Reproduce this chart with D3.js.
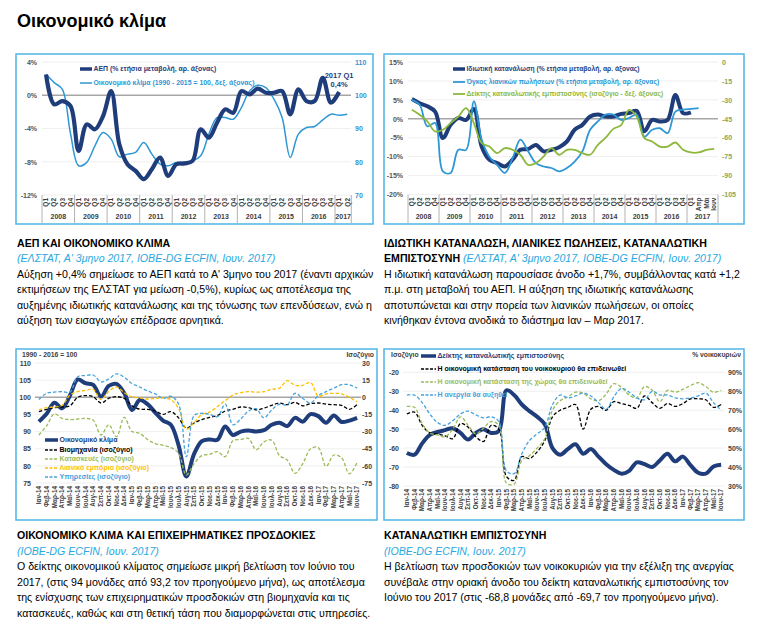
<!DOCTYPE html>
<html>
<head>
<meta charset="utf-8">
<script src="https://cdn.jsdelivr.net/npm/d3@7"></script>
<style>
body { margin: 0; background: #fff; }
svg text { font-family: "Liberation Sans", Arial, sans-serif; }
</style>
</head>
<body>
<svg id="page"></svg>
<script>
// ---- chart 1: GDP and economic climate (quarterly) ----
var years1 = ['2008','2009','2010','2011','2012','2013','2014','2015','2016','2017'];
var quarters1 = years1.flatMap(y => (y === '2017' ? ['Q1','Q2'] : ['Q1','Q2','Q3','Q4']).map(q => y + ' ' + q));
var gdp = [2.5, -1.1, -0.7, -1.3, -6.7, -3.5, -4.1, -2.5, 0.5, -5.9, -8.3, -9.1, -10.1, -8.9, -7.5, -9.7,
           -8.3, -8.2, -7.9, -4.1, -5.1, -3.3, -1.7, -2.1, 0.5, 0.1, 0.8, 0.3, 0.3, 0.5, -2.3, 0.7,
           -0.7, -0.7, 2.1, -0.9, 0.4];
var climate1 = [106.3, 103.8, 101.8, 88.5, 78.8, 79.8, 84.8, 88.8, 86.8, 81.5, 82.3, 82.8, 85.8, 82.3, 79.3, 78.8,
                79.8, 79.8, 80.3, 81.8, 88.3, 93.3, 93.3, 92.8, 96.3, 101.3, 103.0, 102.3, 98.8, 93.3, 81.3, 88.3,
                90.3, 90.6, 92.6, 94.3, 94.0, 94.3];

// ---- chart 2: consumption, retail sales, consumer confidence ----
var cats2 = years1.slice(0, 9).flatMap(y => ['Q1','Q2','Q3','Q4'].map(q => y + ' ' + q))
  .concat(['2017 Q1', '2017 Απρ', '2017 Μάι', '2017 Ιουν']);
var consumption = [5.2, 4.1, 3.3, 1.9, -5.1, -1.6, 0.2, -0.3, 2.6, -7.3, -10.8, -11.7, -12.6, -10.8, -8.2, -8.0,
                   -6.9, -8.6, -8.2, -7.5, -6.0, -2.9, -1.6, 0.6, 1.1, 0.6, 0.6, 1.3, 1.5, 2.1, -3.3, -0.3,
                   -0.7, -0.3, 6.3, 1.5, 1.7];
var retailSales = [5.0, 3.7, -2.0, -1.1, -13.9, -14.3, -8.2, -8.2, 4.6, -5.5, -10.0, -12.2, -14.3, -10.4, -5.5, -8.6,
                   -11.7, -12.6, -13.0, -13.9, -13.0, -11.3, -8.6, -2.9, -0.7, 1.1, 1.1, -0.3, 0.2, 1.1, -4.7, -2.9,
                   -2.5, -3.8, 1.9, 2.4, 2.6, 2.8];
var confidence2 = [-37.9, -41.8, -47.1, -55.0, -53.7, -48.4, -43.2, -36.5, -48.4, -64.3, -67.0, -72.2, -68.2, -69.6, -73.5, -81.5,
                   -80.1, -74.9, -68.2, -73.5, -69.6, -69.6, -72.2, -73.5, -65.6, -60.0, -53.0, -50.0, -38.0, -43.2, -60.3, -63.0,
                   -67.0, -67.0, -63.8, -69.6, -71.7, -71.7, -69.7, -68.8];

// ---- monthly categories for charts 3 and 4 ----
var monthNames = ['Ιαν','Φεβ','Μαρ','Απρ','Μαϊ','Ιουν','Ιουλ','Αυγ','Σεπ','Οκτ','Νοε','Δεκ'];
var months = ['14','15','16','17'].flatMap(y => monthNames.map(m => m + '-' + y)).slice(0, 42);

// ---- chart 3: economic climate and business expectations ----
var esi = [92.9, 95.2, 98.4, 96.8, 100.5, 105.2, 104.1, 103.6, 100.2, 103.3, 103.9, 101.2,
           96.3, 99.2, 98.0, 95.5, 93.2, 92.0, 86.0, 76.9, 83.5, 87.2, 87.7, 87.6,
           91.5, 89.0, 90.0, 90.3, 90.0, 90.4, 92.0, 92.6, 91.6, 94.0, 92.9, 95.1,
           94.5, 92.6, 94.7, 92.8, 93.2, 94.0];
var industry = [-12.6, -10.5, -9.0, -8.5, -7.5, 0.0, 1.5, 0.5, -5.0, -1.0, 0.5, -1.0,
                -7.5, -10.5, -10.5, -12.0, -15.0, -12.5, -18.0, -27.0, -22.5, -19.5, -17.5, -16.0,
                -12.0, -10.5, -8.5, -9.0, -11.0, -9.5, -7.0, -5.0, -6.5, -4.5, -7.5, -5.5,
                -5.0, -6.0, -6.5, -7.0, -10.5, -6.5];
var construction = [-33, -25, -14.5, -18.5, -19.5, -19, -18.5, -20, -33, -24, -34.5, -17.5,
                    -30, -31.5, -37, -40.5, -42, -44, -49, -68, -58, -51, -50, -47.5,
                    -52, -38, -37, -36, -46, -39, -37.5, -51, -55, -66.5, -58, -45,
                    -44, -60.5, -50.5, -53, -67, -57];
var retailTrade = [-11, -9, -8.5, -7, 2, 5, 6, 7, -2, 5, 9, 4,
                   0.5, -0.5, -1.5, -1, -0.5, -2, -10, -28, -22, -15, -13, -8,
                   -3, 2, 4, 5, 4.5, 5, 7, 8, 14.5, 10.5, 10.5, 13,
                   1, 3, 3.5, 3, 0, -4];
var services = [-2, 3.5, 4.5, 5, 4.5, 18, 19, 19.5, 13.5, 16, 20.5, 17.5,
                12, 9, 5.5, 3, -1, 1, -6, -52, -16, -14, -15, -17,
                -6, -24, -19, -12, -10, -18, -11, -6, -6.5, 3.5, -1, -5,
                1.5, 5, 8, 11, 11, 8];

// ---- chart 4: consumer confidence ----
var consConf = [-62.6, -63.5, -57.5, -53, -51.5, -50.5, -49.5, -52, -55.5, -52, -50, -52,
                -51, -29.5, -32, -37, -40.5, -43.5, -47.5, -60, -63.5, -60.5, -58, -63,
                -60.5, -64.5, -68.5, -71.5, -73.5, -72, -67.5, -68.5, -70, -66.5, -63, -67,
                -64.5, -69, -73, -73.5, -69.7, -68.8];
var householdFin = [68, 69, 62, 58, 57.5, 56.5, 55, 63, 61, 56, 53.5, 62,
                    60, 35, 33, 45.5, 44.5, 48, 54, 66.5, 70, 71.5, 73, 60,
                    70.5, 72, 70, 74.5, 73.5, 72.5, 71, 77.5, 74, 71, 73.5, 72,
                    73.5, 76, 76, 75.5, 71.5, 73];
var countryEcon = [72, 71.5, 63, 58, 57, 56, 60, 66.5, 62, 57.5, 60.5, 64,
                   62, 31.5, 31, 43.5, 46, 50, 55, 70, 75, 77, 79.5, 79,
                   76, 75, 78.5, 84, 82, 78, 76.5, 82.5, 80.5, 74.5, 80.5, 79.5,
                   81, 83, 84.5, 82.5, 79.5, 80.5];
var unemployment = [78, 78, 74, 68, 63.5, 62, 64.5, 68, 69.5, 67.5, 66, 66.5,
                    64, 38, 36.5, 47, 54, 57.5, 61, 73, 78, 76.5, 77.5, 79,
                    77.5, 74, 70.5, 77, 81.5, 79.5, 76.5, 75.5, 80, 78, 78, 76.5,
                    76, 76.5, 77.5, 79, 74, 70];

var navy = '#1f3d7a', sky = '#2e97d5', green = '#8cb83c', olive = '#9bbb59', orange = '#ffc000', axisGrey = '#404040';

var svg = d3.select('#page').attr('width', 763).attr('height', 621);

svg.append('text').attr('x', 17).attr('y', 27).text('Οικονομικό κλίμα')
  .style('font-size', '18px').style('font-weight', 'bold');

function panel(x0, y0, x1, y1) {
  svg.append('rect').attr('x', x0).attr('y', y0).attr('width', x1 - x0).attr('height', y1 - y0)
    .attr('fill', 'none').attr('stroke', '#4db6e6').attr('stroke-width', 1.5);
}

function yAxis(scale, ticks, x, side, fmt, color) {
  var ax = (side === 'left' ? d3.axisLeft(scale) : d3.axisRight(scale))
    .tickValues(ticks).tickSize(0).tickPadding(0).tickFormat(fmt);
  var g = svg.append('g').attr('transform', `translate(${x},0)`).call(ax);
  g.select('.domain').remove();
  g.selectAll('text').attr('fill', color).style('font-size', '7px').style('font-weight', 'bold');
}

function grid(scale, ticks, x0, x1) {
  svg.append('g').selectAll('line').data(ticks).join('line')
    .attr('x1', x0).attr('x2', x1).attr('y1', d => scale(d)).attr('y2', d => scale(d))
    .attr('stroke', '#ebebeb').attr('stroke-width', 0.8);
}

function refLine(y, x0, x1) {
  svg.append('line').attr('x1', x0).attr('x2', x1).attr('y1', y).attr('y2', y)
    .attr('stroke', '#a6a6a6').attr('stroke-width', 1.5);
}

function series(x, y, cats, values, color, width, dash) {
  var line = d3.line()
    .x((d, i) => x(cats[i]) + x.bandwidth() / 2)
    .y(d => y(d))
    .curve(d3.curveCatmullRom.alpha(0.5));
  svg.append('path').datum(values).attr('d', line).attr('fill', 'none')
    .attr('stroke', color).attr('stroke-width', width).attr('stroke-dasharray', dash || null)
    .attr('stroke-linejoin', 'round');
}

function rotatedLabels(x, y0, fmt, size) {
  var g = svg.append('g').attr('transform', `translate(0,${y0})`)
    .call(d3.axisBottom(x).tickSize(0).tickFormat(fmt));
  g.select('.domain').remove();
  g.selectAll('text').attr('transform', 'rotate(-90)').attr('text-anchor', 'end')
    .attr('x', -3).attr('y', 0).attr('dy', '0.35em')
    .attr('fill', axisGrey).style('font-size', size).style('font-weight', 'bold');
}

function yearGroups(x, cats, yTop, yBottom, yText) {
  var yrs = Array.from(new Set(cats.map(c => c.split(' ')[0])));
  var last = 0;
  yrs.forEach(yr => {
    var inYear = cats.filter(c => c.split(' ')[0] === yr);
    var a = x(inYear[0]), b = x(inYear[inYear.length - 1]) + x.bandwidth();
    svg.append('line').attr('x1', a).attr('x2', a).attr('y1', yTop).attr('y2', yBottom)
      .attr('stroke', '#a0a0a0').attr('stroke-width', 0.8);
    svg.append('text').attr('x', (a + b) / 2).attr('y', yText).attr('text-anchor', 'middle')
      .text(yr).attr('fill', axisGrey).style('font-size', '7px').style('font-weight', 'bold');
    last = b;
  });
  svg.append('line').attr('x1', last).attr('x2', last).attr('y1', yTop).attr('y2', yBottom)
    .attr('stroke', '#a0a0a0').attr('stroke-width', 0.8);
}

function legendItem(x, y, len, color, width, dash, label, size) {
  svg.append('line').attr('x1', x).attr('x2', x + len).attr('y1', y).attr('y2', y)
    .attr('stroke', color).attr('stroke-width', width).attr('stroke-dasharray', dash || null);
  svg.append('text').attr('x', x + len + 1.5).attr('y', y).attr('dy', '0.35em').text(label)
    .attr('fill', color).style('font-size', size).style('font-weight', 'bold');
}

// ================= chart 1 =================
panel(16, 54, 373, 224);
var x1 = d3.scaleBand().domain(quarters1).range([42, 351.3]);
var yL1 = d3.scaleLinear().domain([-12, 4]).range([195, 62]);
var yR1 = d3.scaleLinear().domain([70, 110]).range([195, 62]);
grid(yL1, [-12, -8, -4, 4], 42, 351);
refLine(yL1(0), 42, 351);
series(x1, yR1, quarters1, climate1, sky, 1.5);
series(x1, yL1, quarters1, gdp, navy, 4.2);
yAxis(yL1, [-12, -8, -4, 0, 4], 37, 'left', d => d + '%', '#555');
yAxis(yR1, [70, 80, 90, 100, 110], 355, 'right', d => d, '#3a93d0');
rotatedLabels(x1, 195, d => d.split(' ')[1], '6.5px');
yearGroups(x1, quarters1, 195, 223, 219);
legendItem(80, 69, 12, navy, 3.5, null, 'ΑΕΠ (% ετήσια μεταβολή, αρ. άξονας)', '6.9px');
legendItem(80, 83, 12, sky, 1.5, null, 'Οικονομικό κλίμα (1990 - 2015 = 100, δεξ. άξονας)', '6.9px');
var ann = x1('2017 Q1') + x1.bandwidth() / 2;
svg.append('text').attr('x', ann).attr('y', 78).attr('text-anchor', 'middle').text('2017 Q1')
  .attr('fill', navy).style('font-size', '7.5px').style('font-weight', 'bold');
svg.append('text').attr('x', ann).attr('y', 87).attr('text-anchor', 'middle').text('0,4%')
  .attr('fill', navy).style('font-size', '7.5px').style('font-weight', 'bold');

// ================= chart 2 =================
panel(384, 54, 744, 224);
var x2 = d3.scaleBand().domain(cats2).range([408, 718]);
var yL2 = d3.scaleLinear().domain([-20, 15]).range([194.5, 62]);
var yR2 = d3.scaleLinear().domain([-105, 0]).range([194.5, 62]);
grid(yL2, [-20, -15, -10, -5, 5, 10, 15], 408, 718);
refLine(yL2(0), 408, 718);
series(x2, yL2, cats2, consumption, navy, 4);
series(x2, yL2, cats2, retailSales, sky, 1.8);
series(x2, yR2, cats2, confidence2, green, 1.8);
yAxis(yL2, [-20, -15, -10, -5, 0, 5, 10, 15], 403, 'left', d => d + '%', '#555');
yAxis(yR2, [-105, -90, -75, -60, -45, -30, -15, 0], 722, 'right', d => d, '#8aa65a');
rotatedLabels(x2, 194.5, d => d.split(' ')[1], '6.5px');
yearGroups(x2, cats2, 194.5, 223, 219);
legendItem(453, 69, 12, navy, 3.5, null, 'Ιδιωτική κατανάλωση (% ετήσια μεταβολή, αρ. άξονας)', '6.7px');
legendItem(453, 82, 12, sky, 1.8, null, 'Όγκος λιανικών πωλήσεων (% ετήσια μεταβολή, αρ. άξονας)', '6.7px');
legendItem(453, 94, 12, green, 1.8, null, 'Δείκτης καταναλωτικής εμπιστοσύνης (ισοζύγιο - δεξ. άξονας)', '6.7px');

// ================= chart 3 =================
panel(16, 349, 377, 520);
var x3 = d3.scaleBand().domain(months).range([35, 361]);
var yL3 = d3.scaleLinear().domain([75, 110]).range([483, 363]);
var yR3 = d3.scaleLinear().domain([-75, 30]).range([483, 363]);
grid(yL3, [75, 80, 85, 90, 95, 105, 110], 35, 361);
refLine(yL3(100), 35, 361);
series(x3, yL3, months, esi, navy, 4);
series(x3, yR3, months, industry, '#000', 1.3, '3.5,2');
series(x3, yR3, months, construction, olive, 1.3, '3.5,2');
series(x3, yR3, months, retailTrade, orange, 1.3, '3.5,2');
series(x3, yR3, months, services, '#45a3dd', 1.3, '3.5,2');
yAxis(yL3, [75, 80, 85, 90, 95, 100, 105, 110], 31, 'left', d => d, axisGrey);
yAxis(yR3, [-75, -60, -45, -30, -15, 0, 15, 30], 362, 'right', d => d, axisGrey);
rotatedLabels(x3, 483, d => d, '6.3px');
svg.append('text').attr('x', 22).attr('y', 357).text('1990 - 2016 = 100')
  .attr('fill', axisGrey).style('font-size', '6.8px').style('font-weight', 'bold');
svg.append('text').attr('x', 374).attr('y', 357).attr('text-anchor', 'end').text('Ισοζύγιο')
  .attr('fill', axisGrey).style('font-size', '6.8px').style('font-weight', 'bold');
legendItem(45, 440, 13, navy, 3.5, null, 'Οικονομικό κλίμα', '7px');
legendItem(45, 450, 13, '#000', 1.3, '3,1.5', 'Βιομηχανία (ισοζύγιο)', '7px');
legendItem(45, 459, 13, olive, 1.3, '3,1.5', 'Κατασκευές (ισοζύγιο)', '7px');
legendItem(45, 468, 13, orange, 1.3, '3,1.5', 'Λιανικό εμπόριο (ισοζύγιο)', '7px');
legendItem(45, 477, 13, '#45a3dd', 1.3, '3,1.5', 'Υπηρεσίες (ισοζύγιο)', '7px');

// ================= chart 4 =================
panel(384, 349, 744, 520);
var x4 = d3.scaleBand().domain(months).range([403, 725]);
var yL4 = d3.scaleLinear().domain([-80, -20]).range([486, 372.3]);
var yR4 = d3.scaleLinear().domain([30, 90]).range([486, 372.3]);
grid(yL4, [-80, -70, -60, -50, -40, -30, -20], 403, 725);
series(x4, yL4, months, consConf, navy, 4);
series(x4, yR4, months, householdFin, '#000', 1.3, '3.5,2');
series(x4, yR4, months, countryEcon, olive, 1.3, '3.5,2');
series(x4, yR4, months, unemployment, '#45a3dd', 1.3, '3.5,2');
yAxis(yL4, [-80, -70, -60, -50, -40, -30, -20], 399, 'left', d => d, axisGrey);
var r4 = d3.axisLeft(yR4).tickValues([30, 40, 50, 60, 70, 80, 90]).tickSize(0).tickPadding(0).tickFormat(d => d + '%');
var gr4 = svg.append('g').attr('transform', 'translate(742,0)').call(r4);
gr4.select('.domain').remove();
gr4.selectAll('text').attr('fill', axisGrey).style('font-size', '7px').style('font-weight', 'bold');
rotatedLabels(x4, 486, d => d, '6.3px');
svg.append('text').attr('x', 391).attr('y', 357).text('Ισοζύγιο')
  .attr('fill', axisGrey).style('font-size', '6.8px').style('font-weight', 'bold');
svg.append('text').attr('x', 741).attr('y', 357).attr('text-anchor', 'end').text('% νοικοκυριών')
  .attr('fill', axisGrey).style('font-size', '6.8px').style('font-weight', 'bold');
legendItem(421, 356, 15, navy, 3.5, null, 'Δείκτης καταναλωτικής εμπιστοσύνης', '7px');
legendItem(421, 369, 15, '#000', 1.3, '3,1.5', 'Η οικονομική κατάσταση του νοικοκυριού θα επιδεινωθεί', '7px');
legendItem(421, 382, 15, olive, 1.3, '3,1.5', 'Η οικονομική κατάσταση της χώρας θα επιδεινωθεί', '7px');
legendItem(421, 395, 15, '#45a3dd', 1.3, '3,1.5', 'Η ανεργία θα αυξηθεί', '7px');

// ================= text blocks =================
var blue = '#29a8e0';
function block(x, yStart, step, lines) {
  lines.forEach((ln, i) => {
    var t = svg.append('text').attr('x', x).attr('y', yStart + i * step).style('font-size', '10.6px');
    ln.forEach(part => {
      var s = t.append('tspan').text(part.t);
      if (part.b) s.style('font-weight', 'bold');
      if (part.i) s.style('font-style', 'italic').attr('fill', blue);
    });
  });
}

block(17, 247, 15.4, [
  [{t: 'ΑΕΠ ΚΑΙ ΟΙΚΟΝΟΜΙΚΟ ΚΛΙΜΑ', b: true}],
  [{t: '(ΕΛΣΤΑΤ, Α\' 3μηνο 2017, ΙΟΒΕ-DG ECFIN, Ιουν. 2017)', i: true}],
  [{t: 'Αύξηση +0,4% σημείωσε το ΑΕΠ κατά το Α\' 3μηνο του 2017 (έναντι αρχικών'}],
  [{t: 'εκτιμήσεων της ΕΛΣΤΑΤ για μείωση -0,5%), κυρίως ως αποτέλεσμα της'}],
  [{t: 'αυξημένης ιδιωτικής κατανάλωσης και της τόνωσης των επενδύσεων, ενώ η'}],
  [{t: 'αύξηση των εισαγωγών επέδρασε αρνητικά.'}]
]);

block(384, 247, 15.4, [
  [{t: 'ΙΔΙΩΤΙΚΗ ΚΑΤΑΝΑΛΩΣΗ, ΛΙΑΝΙΚΕΣ ΠΩΛΗΣΕΙΣ, ΚΑΤΑΝΑΛΩΤΙΚΗ', b: true}],
  [{t: 'ΕΜΠΙΣΤΟΣΥΝΗ ', b: true}, {t: '(ΕΛΣΤΑΤ, Α\' 3μηνο 2017, ΙΟΒΕ-DG ECFIN, Ιουν. 2017)', i: true}],
  [{t: 'Η ιδιωτική κατανάλωση παρουσίασε άνοδο +1,7%, συμβάλλοντας κατά +1,2'}],
  [{t: 'π.μ. στη μεταβολή του ΑΕΠ. Η αύξηση της ιδιωτικής κατανάλωσης'}],
  [{t: 'αποτυπώνεται και στην πορεία των λιανικών πωλήσεων, οι οποίες'}],
  [{t: 'κινήθηκαν έντονα ανοδικά το διάστημα Ιαν – Μαρ 2017.'}]
]);

block(17, 539, 15.6, [
  [{t: 'ΟΙΚΟΝΟΜΙΚΟ ΚΛΙΜΑ ΚΑΙ ΕΠΙΧΕΙΡΗΜΑΤΙΚΕΣ ΠΡΟΣΔΟΚΙΕΣ', b: true}],
  [{t: '(ΙΟΒΕ-DG ECFIN, Ιουν. 2017)', i: true}],
  [{t: 'Ο δείκτης οικονομικού κλίματος σημείωσε μικρή βελτίωση τον Ιούνιο του'}],
  [{t: '2017, (στις 94 μονάδες από 93,2 τον προηγούμενο μήνα), ως αποτέλεσμα'}],
  [{t: 'της ενίσχυσης των επιχειρηματικών προσδοκιών στη βιομηχανία και τις'}],
  [{t: 'κατασκευές, καθώς και στη θετική τάση που διαμορφώνεται στις υπηρεσίες.'}]
]);

block(384, 539, 15.6, [
  [{t: 'ΚΑΤΑΝΑΛΩΤΙΚΗ ΕΜΠΙΣΤΟΣΥΝΗ', b: true}],
  [{t: '(ΙΟΒΕ-DG ECFIN, Ιουν. 2017)', i: true}],
  [{t: 'Η βελτίωση των προσδοκιών των νοικοκυριών για την εξέλιξη της ανεργίας'}],
  [{t: 'συνέβαλε στην οριακή άνοδο του δείκτη καταναλωτικής εμπιστοσύνης τον'}],
  [{t: 'Ιούνιο του 2017 (στις -68,8 μονάδες από -69,7 τον προηγούμενο μήνα).'}]
]);
</script>
</body>
</html>
